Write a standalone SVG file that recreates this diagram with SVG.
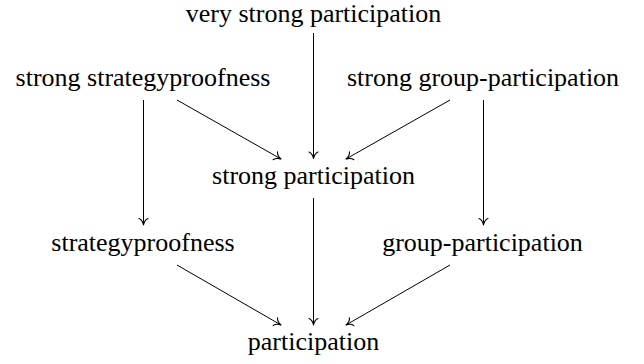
<svg xmlns="http://www.w3.org/2000/svg" width="644" height="364" viewBox="0 0 644 364">
<style>
.t{font-size:26px;fill:#000;text-anchor:middle}
.c{stroke:#000;stroke-width:1;fill:none;marker-end:url(#ah)}
</style>
<defs>
<marker id="ah" markerUnits="userSpaceOnUse" markerWidth="12" markerHeight="12" refX="0" refY="0" viewBox="-8 -6 10 12" orient="auto" overflow="visible">
<path d="M-6.5,-4.5 C-5.5,-2 -2.5,-0.5 0,0 C-2.5,0.5 -5.5,2 -6.5,4.5" fill="none" stroke="#000" stroke-width="1.1" stroke-linecap="round" stroke-linejoin="round"/>
</marker>
</defs>
<g id="connectors">
<line class="c" x1="313.5" y1="33" x2="313.5" y2="158.5"/>
<line class="c" x1="143.5" y1="100" x2="143.5" y2="225"/>
<line class="c" x1="483.5" y1="100" x2="483.5" y2="225"/>
<line class="c" x1="177" y1="100" x2="281" y2="159"/>
<line class="c" x1="450" y1="100" x2="346" y2="159"/>
<line class="c" x1="313.5" y1="198" x2="313.5" y2="325"/>
<line class="c" x1="177" y1="265" x2="281" y2="325"/>
<line class="c" x1="450" y1="265" x2="346" y2="325"/>
</g>
<g id="very-strong-participation"><text class="t" style="font-family:'Liberation Serif'" x="313.5" y="22">very strong participation</text></g>
<g id="strong-strategyproofness"><text class="t" style="font-family:'Liberation Serif'" x="143" y="86">strong strategyproofness</text></g>
<g id="strong-group-participation"><text class="t" style="font-family:'Liberation Serif'" x="483" y="86">strong group-participation</text></g>
<g id="strong-participation"><text class="t" style="font-family:'Liberation Serif'" x="313.5" y="184">strong participation</text></g>
<g id="strategyproofness"><text class="t" style="font-family:'Liberation Serif'" x="143" y="251">strategyproofness</text></g>
<g id="group-participation"><text class="t" style="font-family:'Liberation Serif'" x="482.5" y="251">group-participation</text></g>
<g id="participation"><text class="t" style="font-family:'Liberation Serif'" x="313.5" y="350">participation</text></g>
</svg>
